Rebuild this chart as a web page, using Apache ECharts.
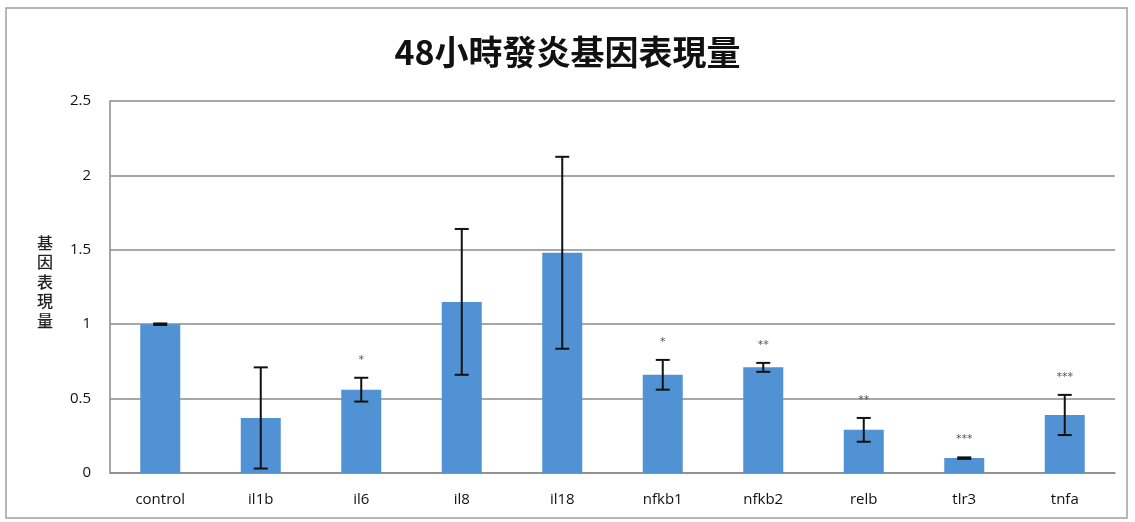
<!DOCTYPE html>
<html>
<head>
<meta charset="utf-8">
<script src="https://cdn.jsdelivr.net/npm/echarts@6/dist/echarts.min.js"></script>
<style>
  html, body { margin: 0; padding: 0; background: #fff; }
  #main { width: 1135px; height: 522px; }
</style>
</head>
<body>
<div id="main"></div>
<script>
// data
var genes = ['control', 'il1b', 'il6', 'il8', 'il18', 'nfkb1', 'nfkb2', 'relb', 'tlr3', 'tnfa'];
var expression = [1.0, 0.37, 0.56, 1.15, 1.48, 0.66, 0.71, 0.29, 0.10, 0.39];
var errors = [0.005, 0.34, 0.08, 0.49, 0.645, 0.10, 0.03, 0.08, 0.005, 0.135];
var stars = ['', '', '*', '', '', '*', '**', '**', '***', '***'];
var yTicks = [0, 0.5, 1, 1.5, 2, 2.5];

var chart = echarts.init(document.getElementById('main'));

var errData = genes.map(function (g, i) {
    return [i, expression[i] - errors[i], expression[i] + errors[i], stars[i]];
});

var option = {
    backgroundColor: '#fff',
    animation: false,
    title: {
        text: '48小時發炎基因表現量',
        left: 'center',
        top: 30,
        textStyle: {
            fontFamily: 'Noto Sans CJK TC',
            fontSize: 34,
            fontWeight: 'bold',
            color: '#111'
        }
    },
    graphic: [{
        type: 'rect',
        shape: { x: 6, y: 8, width: 1121, height: 510 },
        style: { fill: null, stroke: '#a0a0a0', lineWidth: 1.5 },
        silent: true
    }, {
        type: 'text',
        left: 37,
        top: 233,
        style: {
            text: '基\n因\n表\n現\n量',
            font: '500 16px "Noto Sans CJK TC"',
            fill: '#222',
            lineHeight: 19.5
        }
    }],
    grid: { left: 110, right: 20, top: 101, bottom: 49 },
    xAxis: {
        type: 'category',
        data: genes,
        axisLine: { lineStyle: { color: '#8a8a8a', width: 1.5 } },
        axisTick: { show: false },
        axisLabel: {
            margin: 19,
            fontFamily: 'Open Sans',
            fontSize: 15,
            color: '#111'
        }
    },
    yAxis: {
        type: 'value',
        min: yTicks[0],
        max: yTicks[yTicks.length - 1],
        interval: 0.5,
        axisLine: { show: true, lineStyle: { color: '#8a8a8a', width: 1.5 } },
        axisTick: { show: false },
        splitLine: { lineStyle: { color: '#8a8a8a', width: 1.5 } },
        axisLabel: {
            margin: 19,
            fontFamily: 'Open Sans',
            fontSize: 15,
            color: '#111'
        }
    },
    series: [{
        type: 'bar',
        data: expression,
        barWidth: 40,
        itemStyle: { color: '#5092d3' }
    }, {
        type: 'custom',
        data: errData,
        z: 10,
        renderItem: function (params, api) {
            var x = api.value(0);
            var lo = api.coord([x, api.value(1)]);
            var hi = api.coord([x, api.value(2)]);
            var cap = 7;
            var ls = { stroke: '#111', lineWidth: 2 };
            var children = [
                { type: 'line', shape: { x1: hi[0], y1: hi[1], x2: lo[0], y2: lo[1] }, style: ls },
                { type: 'line', shape: { x1: hi[0] - cap, y1: hi[1], x2: hi[0] + cap, y2: hi[1] }, style: ls },
                { type: 'line', shape: { x1: lo[0] - cap, y1: lo[1], x2: lo[0] + cap, y2: lo[1] }, style: ls }
            ];
            var s = api.value(3);
            if (s) {
                children.push({
                    type: 'text',
                    x: hi[0],
                    y: hi[1] - 18,
                    style: {
                        text: s,
                        font: '11px "DejaVu Sans"',
                        fill: '#555',
                        align: 'center',
                        verticalAlign: 'middle'
                    }
                });
            }
            return { type: 'group', children: children };
        }
    }]
};

chart.setOption(option);
</script>
</body>
</html>
